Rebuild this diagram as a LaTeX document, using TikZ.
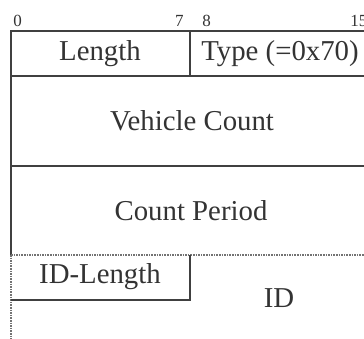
\documentclass[tikz,border=0pt]{standalone}
\usepackage{fontspec}
\setmainfont{Liberation Serif}
\usetikzlibrary{positioning}

\begin{document}
\begin{tikzpicture}[
    x=0.5pt, y=-0.5pt,
    % Line styles
    border/.style={
        draw=black!75, line width=0.55pt,
    },
    open/.style={
        draw=black!55, line width=0.6pt,
        dash pattern=on 0.8pt off 0.5pt,
    },
    % Text styles
    field/.style={
        font=\fontsize{14.4}{16}\selectfont, text=black!80,
        inner sep=0pt, anchor=center,
    },
    bitnum/.style={
        font=\fontsize{8.5}{10}\selectfont, text=black!80,
        inner sep=0pt,
    },
]

\clip (0,0) rectangle (364,338);

% === Bit numbers ===
\node[bitnum, anchor=south west] (b0)  at (13,27)  {0};
\node[bitnum, anchor=south east] (b7)  at (184,27) {7};
\node[bitnum, anchor=south west] (b8)  at (202,27) {8};
\node[bitnum, anchor=south west] (b15) at (350,27) {15};

% === Grid ===
\draw[border] (11,255) -- (11,31) -- (372,31) -- (372,255);
\draw[border] (190,31) -- (190,76);
\draw[border] (11,76) -- (372,76);
\draw[border] (11,166) -- (372,166);

% === Open-ended last row ===
\draw[open] (11,255) -- (372,255);
\draw[open] (11,255) -- (11,340);
\draw[border] (11,300) -- (190,300) -- (190,255);

% === Field labels ===
\node[field] (len)    at (100,54)  {Length};
\node[field] (type)   at (280,54)  {Type (=0x70)};
\node[field] (vcount) at (192,121) {Vehicle Count};
\node[field] (period) at (191,211) {Count Period};
\node[field] (idlen)  at (100,277) {ID-Length};
\node[field] (id)     at (279,298) {ID};

\end{tikzpicture}
\end{document}
